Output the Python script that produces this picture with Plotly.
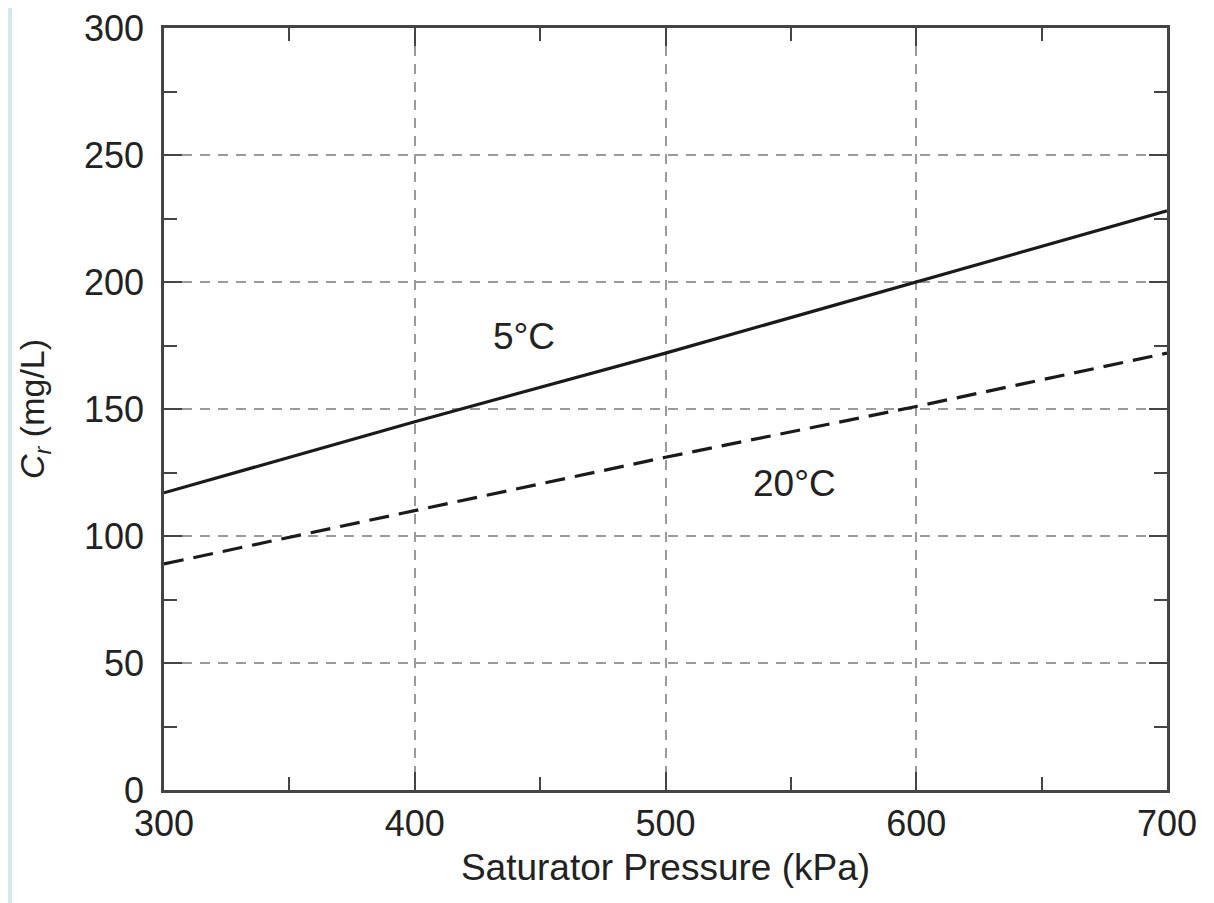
import plotly.graph_objects as go

pressure = [300, 400, 500, 600, 700]
cr_5c = [117, 145, 172, 200, 228]
cr_20c = [89, 110, 131, 151, 172]

x_ticks = [300, 400, 500, 600, 700]
y_ticks = [0, 50, 100, 150, 200, 250, 300]

FONT = "Liberation Sans, Arial, sans-serif"
TXT = "#222222"

W, H = 1206, 895
ML, MR, MT, MB = 156, 47, 20, 113
PW, PH = W - ML - MR, H - MT - MB

fig = go.Figure()
fig.add_trace(go.Scatter(x=pressure, y=cr_5c, mode="lines", name="5°C",
                         line=dict(color="#1a1a1a", width=3.2)))
fig.add_trace(go.Scatter(x=pressure, y=cr_20c, mode="lines", name="20°C",
                         line=dict(color="#1a1a1a", width=3.2, dash="20px,10px")))

fig.add_annotation(x=443.6, y=178.5, text="5°C", showarrow=False,
                   font=dict(family=FONT, size=37, color=TXT))
fig.add_annotation(x=551.6, y=120.5, text="20°C", showarrow=False,
                   font=dict(family=FONT, size=37, color=TXT))

# light strip at left page edge
fig.add_shape(type="rect", xref="paper", yref="paper",
              x0=-ML/PW, x1=-(ML-4)/PW, y0=-MB/PH, y1=1+MT/PH,
              fillcolor="#d8e6ee", line=dict(width=0), layer="below")

axis_common = dict(
    showline=True, linecolor="#444444", linewidth=2.5, mirror="ticks",
    ticks="inside", ticklen=18, tickwidth=2, tickcolor="#444444",
    showgrid=True, gridcolor="#9a9a9a", gridwidth=1.5, griddash="10px,8px",
    zeroline=False, automargin=False, ticklabeloverflow="allow",
    tickfont=dict(family=FONT, size=36, color=TXT),
)

fig.update_xaxes(range=[300, 700], tickvals=x_ticks,
                 minor=dict(dtick=50, tick0=300, ticks="inside", ticklen=13,
                            tickwidth=2, tickcolor="#444444", showgrid=False),
                 title=dict(text="Saturator Pressure (kPa)", standoff=12,
                            font=dict(family=FONT, size=37, color=TXT)),
                 **axis_common)
fig.update_yaxes(range=[0, 300], tickvals=y_ticks,
                 minor=dict(dtick=25, tick0=0, ticks="inside", ticklen=13,
                            tickwidth=2, tickcolor="#444444", showgrid=False),
                 title=dict(text="<i>C<sub>r</sub></i> (mg/L)", standoff=30,
                            font=dict(family=FONT, size=34, color=TXT)),
                 ticklabelstandoff=10,
                 **axis_common)

fig.update_layout(
    width=W, height=H,
    margin=dict(l=ML, r=MR, t=MT, b=MB),
    paper_bgcolor="white", plot_bgcolor="white",
    showlegend=False,
)

fig.write_html("out.html")
